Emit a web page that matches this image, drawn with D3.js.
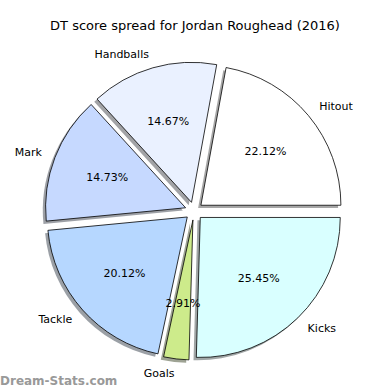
<!DOCTYPE html>
<html>
<head>
<meta charset="utf-8">
<script src="https://cdn.jsdelivr.net/npm/d3@7"></script>
<style>
  body { margin: 0; background: #fff; }
  text { font-family: "DejaVu Sans", sans-serif; }
</style>
</head>
<body>
<svg width="390" height="390"></svg>
<script>
var categories = ["Hitout", "Handballs", "Mark", "Tackle", "Goals", "Kicks"];
var values = [22.12, 14.67, 14.73, 20.12, 2.91, 25.45];
var colors = ["#ffffff", "#eaf1ff", "#c6d9ff", "#b6d7ff", "#cdeb8b", "#d9ffff"];

var svg = d3.select("svg"),
    width = +svg.attr("width"),
    height = +svg.attr("height"),
    cx = 194, cy = 211,
    radius = 140,
    explode = 9,
    shadowOff = 2.8;

svg.append("text")
    .attr("x", width / 2)
    .attr("y", 30)
    .attr("text-anchor", "middle")
    .style("font-size", "13px")
    .text("DT score spread for Jordan Roughead (2016)");

// counterclockwise from east, like matplotlib
var pie = d3.pie().sort(null)
    .startAngle(Math.PI / 2)
    .endAngle(Math.PI / 2 - 2 * Math.PI);

var arcs = pie(values.map(function(v, i) { return { v: v, i: i }; }).map(function(d) { return d.v; }));
arcs.forEach(function(a, i) { a.name = categories[i]; a.color = colors[i]; a.mid = (a.startAngle + a.endAngle) / 2; });

var arc = d3.arc().innerRadius(0).outerRadius(radius);

function offset(a, dist) {
    return [cx + (explode + dist) * Math.sin(a.mid), cy - (explode + dist) * Math.cos(a.mid)];
}

var g = svg.append("g");

// shadows first
g.selectAll("path.shadow")
    .data(arcs)
    .enter().append("path")
    .attr("class", "shadow")
    .attr("d", arc)
    .attr("transform", function(d) { var p = offset(d, 0); return "translate(" + (p[0] - shadowOff) + "," + (p[1] + shadowOff) + ")"; })
    .attr("fill", function(d) { var c = d3.rgb(d.color); return d3.rgb(c.r * 0.3, c.g * 0.3, c.b * 0.3); })
    .attr("fill-opacity", 0.5);

g.selectAll("path.wedge")
    .data(arcs)
    .enter().append("path")
    .attr("class", "wedge")
    .attr("d", arc)
    .attr("transform", function(d) { var p = offset(d, 0); return "translate(" + p[0] + "," + p[1] + ")"; })
    .attr("fill", function(d) { return d.color; })
    .attr("stroke", "#000")
    .attr("stroke-width", 0.8)
    .attr("stroke-linejoin", "round");

g.selectAll("text.label")
    .data(arcs)
    .enter().append("text")
    .attr("class", "label")
    .attr("x", function(d) { return offset(d, radius * 1.1)[0]; })
    .attr("y", function(d) { return offset(d, radius * 1.1)[1]; })
    .attr("dy", "0.35em")
    .attr("text-anchor", function(d) { return Math.sin(d.mid) > 0 ? "start" : "end"; })
    .style("font-size", "11px")
    .text(function(d) { return d.name; });

g.selectAll("text.pct")
    .data(arcs)
    .enter().append("text")
    .attr("class", "pct")
    .attr("x", function(d) { return offset(d, radius * 0.6)[0]; })
    .attr("y", function(d) { return offset(d, radius * 0.6)[1]; })
    .attr("dy", "0.35em")
    .attr("text-anchor", "middle")
    .style("font-size", "11px")
    .text(function(d) { return d.data.toFixed(2) + "%"; });

svg.append("text")
    .attr("x", 0)
    .attr("y", 385)
    .style("font-size", "12px")
    .style("font-weight", "bold")
    .attr("fill", "#999")
    .text("Dream-Stats.com");
</script>
</body>
</html>
